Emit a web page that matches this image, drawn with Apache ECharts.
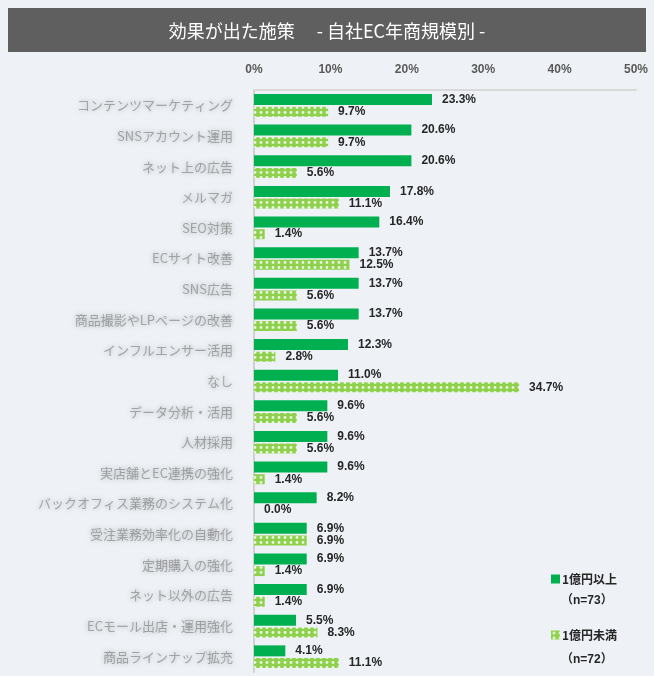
<!DOCTYPE html>
<html>
<head>
<meta charset="utf-8">
<script src="https://cdn.jsdelivr.net/npm/echarts@6/dist/echarts.min.js"></script>
<style>
  html, body { margin: 0; padding: 0; background: #eef2f6; }
  #chart { width: 654px; height: 676px; }
</style>
</head>
<body>
<div id="chart"></div>
<script>
// 施策ごとの回答率（%）
const categories = [
  "コンテンツマーケティング", "SNSアカウント運用", "ネット上の広告", "メルマガ", "SEO対策",
  "ECサイト改善", "SNS広告", "商品撮影やLPページの改善", "インフルエンサー活用", "なし",
  "データ分析・活用", "人材採用", "実店舗とEC連携の強化", "バックオフィス業務のシステム化",
  "受注業務効率化の自動化", "定期購入の強化", "ネット以外の広告", "ECモール出店・運用強化", "商品ラインナップ拡充"
];
const over1oku = [23.3, 20.6, 20.6, 17.8, 16.4, 13.7, 13.7, 13.7, 12.3, 11.0, 9.6, 9.6, 9.6, 8.2, 6.9, 6.9, 6.9, 5.5, 4.1];
const under1oku = [9.7, 9.7, 5.6, 11.1, 1.4, 12.5, 5.6, 5.6, 2.8, 34.7, 5.6, 5.6, 1.4, 0.0, 6.9, 1.4, 1.4, 8.3, 11.1];
const seriesNames = ["1億円以上", "1億円未満"];
const sampleSizes = ["（n=73）", "（n=72）"];
const xTicks = [0, 10, 20, 30, 40, 50];

// 網掛けパターン（薄緑＋白の粒）
function hatchPattern() {
  const c = document.createElement("canvas");
  c.width = 6; c.height = 5;
  const g = c.getContext("2d");
  g.fillStyle = "#8fd14f";
  g.fillRect(0, 0, 6, 5);
  g.fillStyle = "#e9f7dc";
  g.beginPath(); g.arc(3, 2.5, 1.4, 0, Math.PI * 2); g.fill();
  return c;
}

const labelStyle = {
  show: true, position: "right", distance: 10,
  color: "#262626", fontWeight: "bold", fontSize: 12, fontFamily: "Liberation Sans",
  formatter: (p) => p.value.toFixed(1) + "%"
};
const smallFont = "bold 12px 'Liberation Sans', 'Noto Sans CJK JP'";

const chart = echarts.init(document.getElementById("chart"));
chart.setOption({
  backgroundColor: "#eef2f6",
  animation: false,
  graphic: [
    { type: "rect", left: 8, top: 8, shape: { width: 638, height: 44 }, style: { fill: "#5f5f5f" } },
    { type: "text", left: 561, top: 595, style: { text: sampleSizes[0], fill: "#262626", font: smallFont } },
    { type: "text", left: 561, top: 654, style: { text: sampleSizes[1], fill: "#262626", font: smallFont } }
  ],
  title: {
    text: "効果が出た施策　 - 自社EC年商規模別 -",
    left: "center", top: 17,
    textStyle: { color: "#ffffff", fontSize: 18, fontWeight: "normal", fontFamily: "Noto Sans CJK JP" }
  },
  legend: {
    orient: "vertical", left: 546, top: 568, itemWidth: 9, itemHeight: 9, itemGap: 44,
    icon: "rect",
    data: seriesNames,
    textStyle: { color: "#262626", fontWeight: "bold", fontSize: 12, fontFamily: "Noto Sans CJK JP", padding: [0, 0, 0, -3] }
  },
  grid: { left: 254, right: 18, top: 90, bottom: 4 },
  xAxis: {
    type: "value", position: "top", min: 0, max: 50, interval: 10,
    axisLine: { show: true, lineStyle: { color: "#d9d9d9", width: 2 } },
    axisTick: { show: false },
    splitLine: { show: false },
    axisLabel: {
      margin: 14, color: "#595959", fontWeight: "bold", fontSize: 12, fontFamily: "Liberation Sans",
      formatter: (v) => xTicks.includes(v) ? v + "%" : ""
    }
  },
  yAxis: {
    type: "category", inverse: true, data: categories,
    axisLine: { lineStyle: { color: "#d0d0d0", width: 2 } },
    axisTick: { inside: true, length: 4, lineStyle: { color: "#c8c8c8", width: 2 } },
    axisLabel: {
      margin: 21, color: "rgba(100,100,100,0.5)", fontSize: 13, fontFamily: "Noto Sans CJK JP",
      textShadowColor: "rgba(100,100,100,0.9)", textShadowBlur: 5
    }
  },
  series: [
    {
      name: seriesNames[0], type: "bar", data: over1oku, barWidth: 11, barGap: "15%",
      itemStyle: { color: "#00b050" }, label: labelStyle
    },
    {
      name: seriesNames[1], type: "bar", data: under1oku, barWidth: 10,
      itemStyle: { color: { image: hatchPattern(), repeat: "repeat" } }, label: labelStyle
    }
  ]
});
</script>
</body>
</html>
